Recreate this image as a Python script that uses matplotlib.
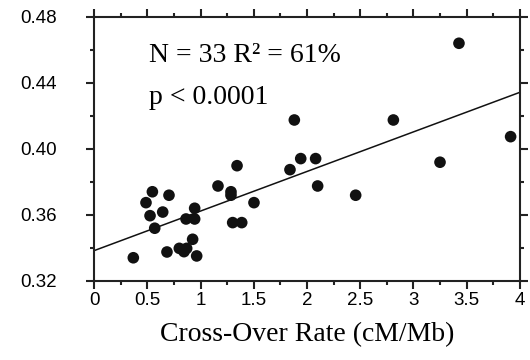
import numpy as np
import matplotlib
matplotlib.use('Agg')
from matplotlib import pyplot as plt
from matplotlib.ticker import MultipleLocator

# cross-over rate (cM/Mb) vs. y value
rate = [3.427, 1.881, 2.811, 3.912, 3.249, 1.343, 1.941, 2.081, 1.840, 2.100, 2.457,
        1.164, 1.286, 1.286, 1.502, 1.302, 1.387, 0.548, 0.704, 0.488, 0.645, 0.526,
        0.945, 0.864, 0.945, 0.570, 0.926, 0.801, 0.870, 0.845, 0.685, 0.964, 0.369]
value = [0.4639, 0.4174, 0.4174, 0.4073, 0.3918, 0.3897, 0.3940, 0.3940, 0.3873, 0.3774, 0.3718,
         0.3774, 0.3739, 0.3718, 0.3673, 0.3552, 0.3552, 0.3739, 0.3718, 0.3673, 0.3616, 0.3594,
         0.3639, 0.3574, 0.3574, 0.3518, 0.3451, 0.3396, 0.3396, 0.3376, 0.3374, 0.3350, 0.3339]

fit_x = [0, 4]
fit_y = [0.3382, 0.4342]

x_ticks = [0, 0.5, 1, 1.5, 2, 2.5, 3, 3.5, 4]
x_labels = ['0', '0.5', '1', '1.5', '2', '2.5', '3', '3.5', '4']
y_ticks = [0.32, 0.36, 0.40, 0.44, 0.48]
y_labels = ['0.32', '0.36', '0.40', '0.44', '0.48']

fig = plt.figure(figsize=(5.3, 3.6), dpi=100)
ax = fig.add_axes([0.1774, 0.2203, 0.9811 - 0.1774, 0.9536 - 0.2203])

ax.scatter(rate, value, s=70, color='#111111', edgecolors='none', zorder=3)
ax.plot(fit_x, fit_y, color='#111111', linewidth=1.1, zorder=2)

ax.set_xlim(0, 4)
ax.set_ylim(0.32, 0.48)
ax.set_xticks(x_ticks)
ax.set_xticklabels(x_labels)
ax.set_yticks(y_ticks)
ax.set_yticklabels(y_labels)
ax.xaxis.set_minor_locator(MultipleLocator(0.25))
ax.yaxis.set_minor_locator(MultipleLocator(0.02))

for side in ax.spines.values():
    side.set_linewidth(1.5)
    side.set_color('#222222')

ax.tick_params(which='both', direction='out', top=True, right=True, width=1.5, color='#222222')
ax.tick_params(which='major', length=5.5)
ax.tick_params(which='minor', length=3)
ax.tick_params(axis='x', which='major', labelsize=13.5, pad=3)
ax.tick_params(axis='y', which='major', labelsize=13.5, pad=21)
for lab in ax.get_xticklabels() + ax.get_yticklabels():
    lab.set_family('Liberation Sans')

ax.set_xlabel('Cross-Over Rate (cM/Mb)', family='Liberation Serif', fontsize=20, labelpad=9)

ax.text(0.128, 0.90, 'N = 33 R² = 61%', transform=ax.transAxes, family='Liberation Serif',
        fontsize=20, va='top')
ax.text(0.128, 0.74, 'p < 0.0001', transform=ax.transAxes, family='Liberation Serif',
        fontsize=20, va='top')

fig.savefig('out.png', dpi=100)
